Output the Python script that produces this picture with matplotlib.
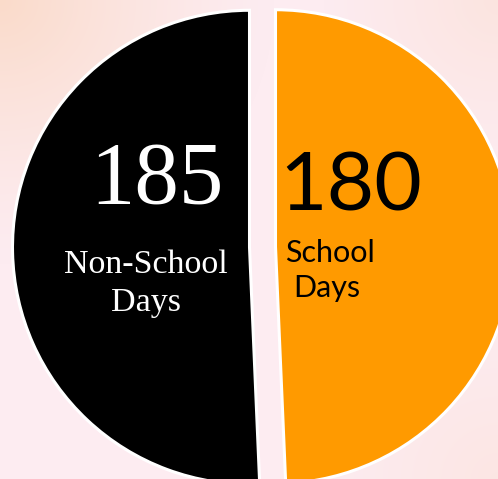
import numpy as np
import matplotlib
matplotlib.use("Agg")
import matplotlib.pyplot as plt

# --- data ---
labels = ["Non-School Days", "School Days"]
days = [185, 180]
colors = ["#000000", "#FF9A00"]

W, H = 498, 479
fig = plt.figure(figsize=(W / 100, H / 100), dpi=100)

# --- background gradient (pink with peach corners) ---
bg = fig.add_axes([0, 0, 1, 1])
bg.set_axis_off()
yy, xx = np.mgrid[0:H, 0:W]
pink = np.array([253, 236, 241]) / 255
peach = np.array([250, 219, 202]) / 255
d_tl = np.hypot(xx / W, yy / H)
d_tr = np.hypot((W - xx) / W, yy / H)
d_br = np.hypot((W - xx) / W, (H - yy) / H)
w = np.clip(1 - d_tl / 0.55, 0, 1) ** 1.3
w = np.maximum(w, 0.45 * np.clip(1 - d_tr / 0.35, 0, 1))
w = np.maximum(w, 0.35 * np.clip(1 - d_br / 0.35, 0, 1))
img = pink[None, None, :] * (1 - w[..., None]) + peach[None, None, :] * w[..., None]
bg.imshow(img, extent=(0, W, 0, H), aspect="auto")

# --- pie ---
ax = fig.add_axes([0, 0, 1, 1])
ax.pie(days, colors=colors, startangle=90, counterclock=True,
       radius=237, center=(262.5, H - 247), explode=[13, 13],
       wedgeprops=dict(edgecolor="white", linewidth=2.2), frame=False)
ax.set_xlim(0, W)
ax.set_ylim(0, H)
ax.set_aspect("auto")
ax.set_axis_off()

serif = "Liberation Serif"
sans = "Lato"

# left slice labels
ax.text(157, H - 203, str(days[0]), color="white", family=serif,
        fontsize=64, ha="center", va="baseline")
ax.text(146, H - 273, "Non-School", color="white", family=serif,
        fontsize=24.5, ha="center", va="baseline")
ax.text(146, H - 311, "Days", color="white", family=serif,
        fontsize=24.5, ha="center", va="baseline")

# right slice labels
ax.text(351, H - 210, str(days[1]), color="black", family=sans,
        fontsize=59, ha="center", va="baseline")
ax.text(285, H - 262, "School", color="black", family=sans,
        fontsize=22, ha="left", va="baseline")
ax.text(293, H - 297, "Days", color="black", family=sans,
        fontsize=22, ha="left", va="baseline")

fig.savefig("out.png", dpi=100)
